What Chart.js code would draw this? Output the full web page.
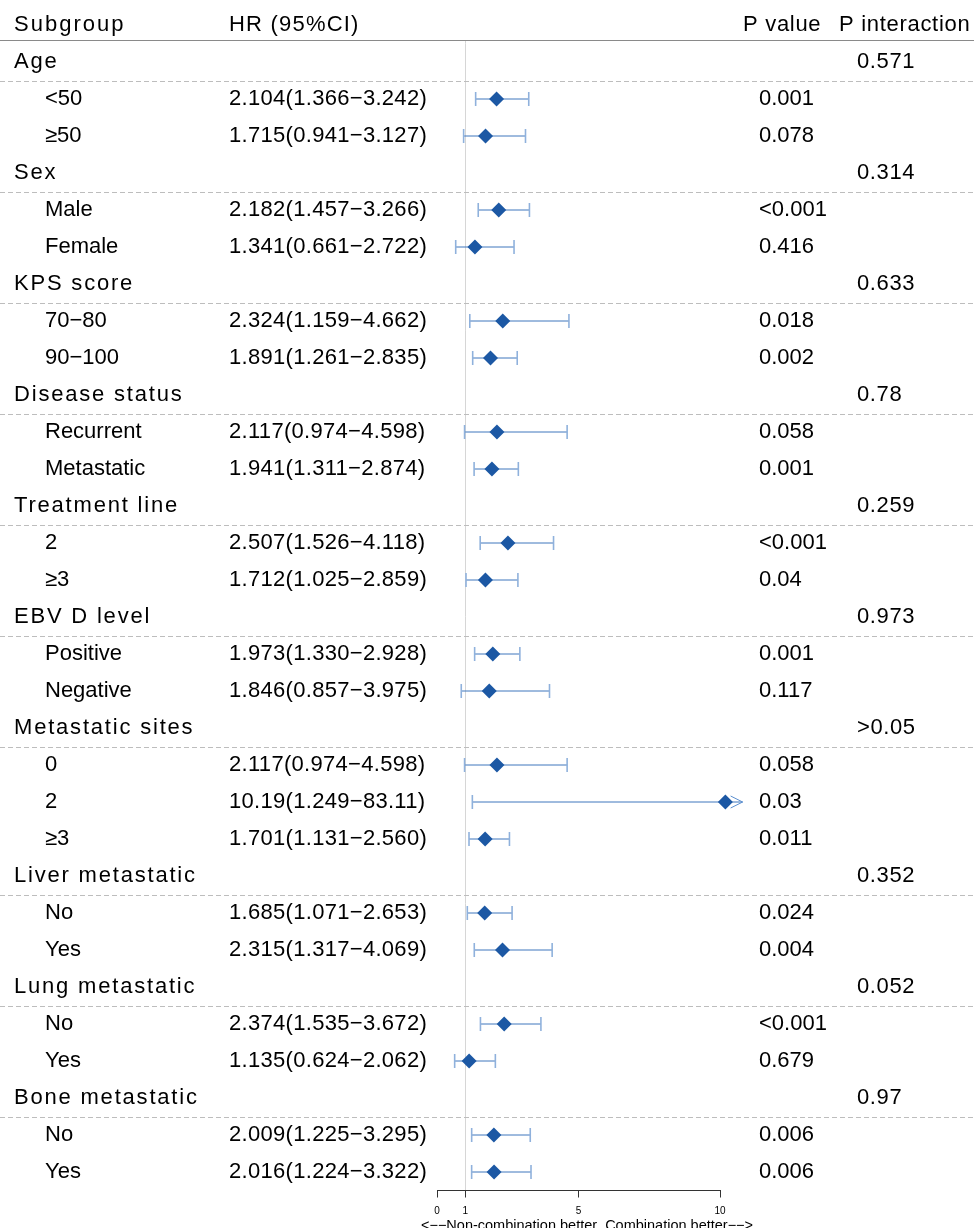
<!DOCTYPE html>
<html>
<head>
<meta charset="utf-8">
<script src="https://cdn.jsdelivr.net/npm/chart.js@4.4.1/dist/chart.umd.min.js"></script>
<style>
  html, body { margin: 0; padding: 0; background: #fff; overflow: hidden; }
  #wrap { width: 974px; height: 1228px; overflow: hidden; position: relative; }
</style>
</head>
<body>
<div id="wrap"><canvas id="forest" width="974" height="1240"></canvas></div>
<script>
// table rows, top to bottom (group rows have no HR)
const subgroups = [
  "Age", "<50", "≥50",
  "Sex", "Male", "Female",
  "KPS score", "70−80", "90−100",
  "Disease status", "Recurrent", "Metastatic",
  "Treatment line", "2", "≥3",
  "EBV D level", "Positive", "Negative",
  "Metastatic sites", "0", "2", "≥3",
  "Liver metastatic", "No", "Yes",
  "Lung metastatic", "No", "Yes",
  "Bone metastatic", "No", "Yes"
];
const hrValues = [
  null, 2.104, 1.715,
  null, 2.182, 1.341,
  null, 2.324, 1.891,
  null, 2.117, 1.941,
  null, 2.507, 1.712,
  null, 1.973, 1.846,
  null, 2.117, 10.19, 1.701,
  null, 1.685, 2.315,
  null, 2.374, 1.135,
  null, 2.009, 2.016
];
const lowerCI = [
  null, 1.366, 0.941,
  null, 1.457, 0.661,
  null, 1.159, 1.261,
  null, 0.974, 1.311,
  null, 1.526, 1.025,
  null, 1.330, 0.857,
  null, 0.974, 1.249, 1.131,
  null, 1.071, 1.317,
  null, 1.535, 0.624,
  null, 1.225, 1.224
];
const upperCI = [
  null, 3.242, 3.127,
  null, 3.266, 2.722,
  null, 4.662, 2.835,
  null, 4.598, 2.874,
  null, 4.118, 2.859,
  null, 2.928, 3.975,
  null, 4.598, 83.11, 2.560,
  null, 2.653, 4.069,
  null, 3.672, 2.062,
  null, 3.295, 3.322
];
const hrLabels = [
  "", "2.104(1.366−3.242)", "1.715(0.941−3.127)",
  "", "2.182(1.457−3.266)", "1.341(0.661−2.722)",
  "", "2.324(1.159−4.662)", "1.891(1.261−2.835)",
  "", "2.117(0.974−4.598)", "1.941(1.311−2.874)",
  "", "2.507(1.526−4.118)", "1.712(1.025−2.859)",
  "", "1.973(1.330−2.928)", "1.846(0.857−3.975)",
  "", "2.117(0.974−4.598)", "10.19(1.249−83.11)", "1.701(1.131−2.560)",
  "", "1.685(1.071−2.653)", "2.315(1.317−4.069)",
  "", "2.374(1.535−3.672)", "1.135(0.624−2.062)",
  "", "2.009(1.225−3.295)", "2.016(1.224−3.322)"
];
const pValues = [
  "", "0.001", "0.078",
  "", "<0.001", "0.416",
  "", "0.018", "0.002",
  "", "0.058", "0.001",
  "", "<0.001", "0.04",
  "", "0.001", "0.117",
  "", "0.058", "0.03", "0.011",
  "", "0.024", "0.004",
  "", "<0.001", "0.679",
  "", "0.006", "0.006"
];
const pInteraction = [
  "0.571", "", "",
  "0.314", "", "",
  "0.633", "", "",
  "0.78", "", "",
  "0.259", "", "",
  "0.973", "", "",
  ">0.05", "", "", "",
  "0.352", "", "",
  "0.052", "", "",
  "0.97", "", ""
];
const xTicks = [0, 1, 5, 10];
const xTitle = "<−−Non-combination better  Combination better−−>";

const FONT = "'Liberation Sans', Arial, Helvetica, sans-serif";
const X_CLIP = 10.8; // where a too-long CI is cut and gets an arrow

// build the marks
const ciData = [], capData = [], pointData = [], arrowRows = [];
hrValues.forEach((hr, i) => {
  if (hr === null) return;
  const hi = Math.min(upperCI[i], X_CLIP);
  ciData.push({ x: lowerCI[i], y: i }, { x: hi, y: i }, { x: null, y: null });
  capData.push({ x: lowerCI[i], y: i });
  if (upperCI[i] <= X_CLIP) capData.push({ x: upperCI[i], y: i });
  else arrowRows.push(i);
  pointData.push({ x: hr, y: i });
});

// table text, separators, arrows and axis caption
const tablePlugin = {
  id: "table",
  beforeDatasetsDraw(chart) {
    const ctx = chart.ctx, xs = chart.scales.x, ys = chart.scales.y;
    ctx.save();
    // header rule
    ctx.strokeStyle = "#8a8a8a";
    ctx.lineWidth = 1;
    ctx.beginPath();
    ctx.moveTo(0, 40.5);
    ctx.lineTo(974, 40.5);
    ctx.stroke();
    // reference line at HR = 1 reaches up to the header rule
    const x1 = Math.round(xs.getPixelForValue(1)) + 0.5;
    ctx.strokeStyle = "#d6d6d6";
    ctx.beginPath();
    ctx.moveTo(x1, 41);
    ctx.lineTo(x1, chart.chartArea.top);
    ctx.stroke();
    // dashed lines under group rows
    ctx.strokeStyle = "#bdbdbd";
    ctx.setLineDash([5, 3]);
    hrValues.forEach((hr, i) => {
      if (hr !== null) return;
      const y = Math.round(ys.getPixelForValue(i) + 18.5) + 0.5;
      ctx.beginPath();
      ctx.moveTo(0, y);
      ctx.lineTo(974, y);
      ctx.stroke();
    });
    ctx.restore();
  },
  afterDraw(chart) {
    const ctx = chart.ctx, xs = chart.scales.x, ys = chart.scales.y;
    ctx.save();
    ctx.fillStyle = "#000";
    ctx.textBaseline = "middle";
    ctx.textAlign = "left";

    const hy = ys.getPixelForValue(-1);
    ctx.font = "22px " + FONT;
    ctx.letterSpacing = "2px";
    ctx.fillText("Subgroup", 14, hy);
    ctx.letterSpacing = "1.2px";
    ctx.fillText("HR (95%CI)", 229, hy);
    ctx.letterSpacing = "0.7px";
    ctx.fillText("P value", 743, hy);
    ctx.fillText("P interaction", 839, hy);

    subgroups.forEach((s, i) => {
      const y = ys.getPixelForValue(i);
      ctx.font = "22px " + FONT;
      if (hrValues[i] === null) {
        ctx.letterSpacing = "1.8px";
        ctx.fillText(s, 14, y);
        ctx.letterSpacing = "0.6px";
        ctx.fillText(pInteraction[i], 857, y);
      } else {
        ctx.letterSpacing = "0px";
        ctx.fillText(s, 45, y);
        ctx.letterSpacing = "0.3px";
        ctx.fillText(hrLabels[i], 229, y);
        ctx.letterSpacing = "0px";
        ctx.fillText(pValues[i], 759, y);
      }
    });

    // axis caption, wider than the axis so drawn here unsqueezed
    ctx.letterSpacing = "0px";
    ctx.font = "14.5px " + FONT;
    ctx.textAlign = "center";
    ctx.fillText(xTitle, 587, chart.chartArea.bottom + 35);

    // open arrow heads for truncated intervals
    ctx.strokeStyle = "#5b8fcf";
    ctx.lineWidth = 1;
    arrowRows.forEach(i => {
      const x = xs.getPixelForValue(X_CLIP), y = ys.getPixelForValue(i);
      ctx.beginPath();
      ctx.moveTo(x - 12, y - 6);
      ctx.lineTo(x, y);
      ctx.lineTo(x - 12, y + 6);
      ctx.stroke();
    });
    ctx.restore();
  }
};

new Chart(document.getElementById("forest"), {
  type: "scatter",
  data: {
    datasets: [
      {
        data: pointData,
        pointStyle: "rectRot",
        pointRadius: 7.5,
        pointBackgroundColor: "#1c58a4",
        pointBorderColor: "#1c58a4",
        pointBorderWidth: 0,
        clip: false
      },
      {
        data: capData,
        pointStyle: "line",
        rotation: 90,
        pointRadius: 7,
        pointBorderColor: "#8fb1dc",
        pointBorderWidth: 1.6,
        clip: false
      },
      {
        data: ciData,
        showLine: true,
        spanGaps: false,
        borderColor: "#3f77bd",
        borderWidth: 1,
        pointRadius: 0,
        clip: false
      }
    ]
  },
  options: {
    responsive: false,
    animation: false,
    events: [],
    layout: { autoPadding: false, padding: { left: 437, right: 254, top: 43.5, bottom: 7.8 } },
    plugins: { legend: { display: false }, tooltip: { enabled: false } },
    scales: {
      x: {
        type: "linear",
        min: 0,
        max: 10,
        afterBuildTicks: s => { s.ticks = xTicks.map(v => ({ value: v })); },
        afterFit: s => { s.height = 41.7; },
        grid: {
          drawOnChartArea: true,
          color: c => (c.tick && c.tick.value === 1 ? "#d6d6d6" : "rgba(0,0,0,0)"),
          tickColor: "#333",
          tickLength: 7
        },
        border: { color: "#333", width: 1 },
        ticks: { font: { size: 10, family: FONT }, color: "#000", padding: 8, maxRotation: 0, autoSkip: false }
      },
      y: { type: "linear", min: -0.5, max: 30.5, reverse: true, display: false }
    }
  },
  plugins: [tablePlugin]
});
</script>
</body>
</html>
